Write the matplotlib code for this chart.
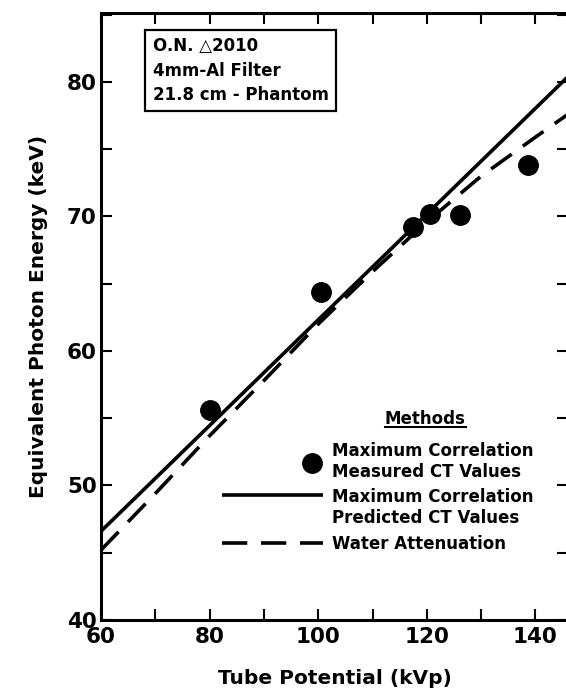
"""Equivalent photon energy vs tube potential."""
import numpy as np
import matplotlib
matplotlib.use('Agg')
import matplotlib.pyplot as plt
from matplotlib.legend_handler import HandlerLine2D
from matplotlib.lines import Line2D
from matplotlib.ticker import MultipleLocator

# Maximum correlation, measured CT values (points)
kvp_measured = [80.1, 100.5, 117.5, 120.6, 126.1, 138.7]
kev_measured = [55.6, 64.4, 69.2, 70.2, 70.1, 73.8]

# Maximum correlation, predicted CT values (solid line)
kvp_predicted = [60, 146]
kev_predicted = [46.6, 80.4]

# Water attenuation (dashed curve)
kvp_water = [60, 70, 80, 90, 100, 110, 120, 130, 140, 146]
kev_water = [45.2, 49.4, 53.7, 57.8, 62.0, 65.9, 69.6, 73.0, 75.9, 77.6]

legend_labels = ['Maximum Correlation\nMeasured CT Values',
                 'Maximum Correlation\nPredicted CT Values',
                 'Water Attenuation']
info_lines = ['O.N. \u25b32010', '4mm-Al Filter', '21.8 cm - Phantom']

plt.rcParams['font.family'] = ['DejaVu Sans']
plt.rcParams['font.weight'] = 'bold'
plt.rcParams['axes.labelweight'] = 'bold'


class RightMarkerHandler(HandlerLine2D):
    """Legend handler that puts a single marker near the right end."""
    def get_xdata(self, legend, xdescent, ydescent, width, height, fontsize):
        pos = np.array([-xdescent + 0.89 * width])
        return pos, pos


class RaisedLineHandler(HandlerLine2D):
    """Legend handler that lines the key up with the first text line."""
    def create_artists(self, legend, orig_handle, xdescent, ydescent,
                       width, height, fontsize, trans):
        artists = super().create_artists(legend, orig_handle, xdescent, ydescent,
                                         width, height, fontsize, trans)
        for a in artists:
            a.set_ydata(np.asarray(a.get_ydata()) + 10)
        return artists


def plot_energy(save_path='out.png'):
    fig = plt.figure(figsize=(5.66, 6.93), dpi=100)
    ax = fig.add_axes([101 / 566, 73 / 693, 467 / 566, 607 / 693])

    predicted, = ax.plot(kvp_predicted, kev_predicted, color='black', lw=2.6,
                         solid_capstyle='butt')
    water, = ax.plot(kvp_water, kev_water, color='black', lw=2.6,
                     dashes=(7, 3.8))
    measured, = ax.plot(kvp_measured, kev_measured, 'o', color='black',
                        ms=14, zorder=3)

    ax.set_xlim(60, 146)
    ax.set_ylim(40, 85.13)
    ax.xaxis.set_major_locator(MultipleLocator(20))
    ax.xaxis.set_minor_locator(MultipleLocator(10))
    ax.yaxis.set_major_locator(MultipleLocator(10))
    ax.yaxis.set_minor_locator(MultipleLocator(5))
    ax.tick_params(which='both', direction='in', length=8, width=1.5,
                   top=True, right=True)
    ax.tick_params(axis='x', pad=5, labelsize=15.5)
    ax.tick_params(axis='y', pad=3, labelsize=15.5)
    for s in ax.spines.values():
        s.set_linewidth(2.2)

    ax.set_xlabel('Tube Potential (kVp)', fontsize=14.5, labelpad=16)
    ax.set_ylabel('Equivalent Photon Energy (keV)', fontsize=14.5, labelpad=14)

    # lift the bottom "40" so it clears the "60"
    ax.get_yticklabels()[0].set_va('baseline')

    ax.text(0.111, 0.960, '\n'.join(info_lines), transform=ax.transAxes,
            ha='left', va='top', fontsize=12, linespacing=1.45,
            bbox=dict(boxstyle='square,pad=0.45', fc='white', ec='black', lw=1.6))

    methods = ax.text(0.694, 0.331, 'Methods', transform=ax.transAxes,
                      ha='center', va='center', fontsize=12)
    ax.legend([measured, predicted, water], legend_labels, loc='upper left',
              bbox_to_anchor=(0.259, 0.293), frameon=False, fontsize=12,
              handlelength=6.06, handletextpad=0.54, labelspacing=0.45,
              borderpad=0, borderaxespad=0,
              handler_map={measured: RightMarkerHandler(numpoints=2),
                           predicted: RaisedLineHandler()})

    # underline "Methods"
    fig.canvas.draw()
    bb = methods.get_window_extent().transformed(fig.transFigure.inverted())
    fig.add_artist(Line2D([bb.x0, bb.x1], [bb.y0 + 0.002, bb.y0 + 0.002],
                          color='black', lw=1.5))

    fig.savefig(save_path, dpi=100)


if __name__ == "__main__":
    plot_energy('out.png')
